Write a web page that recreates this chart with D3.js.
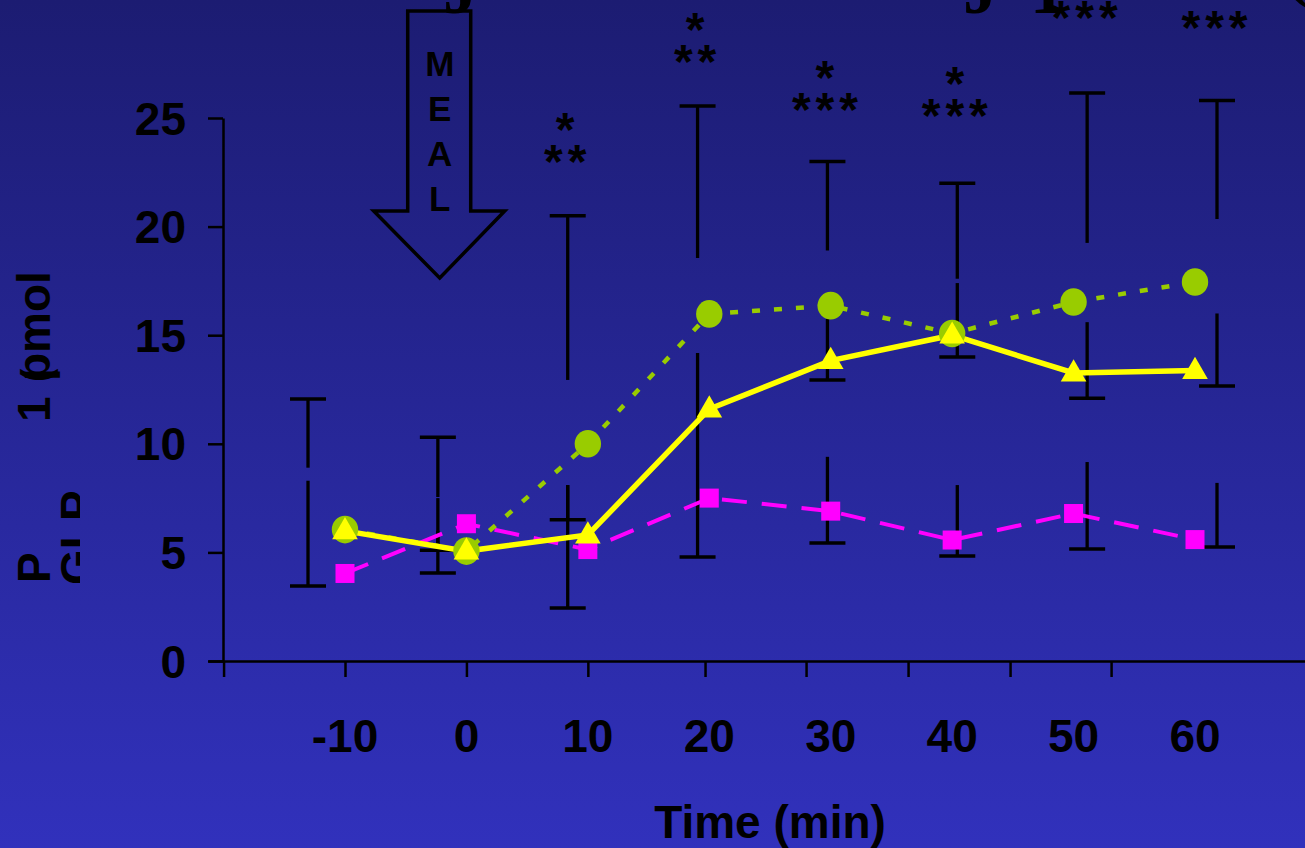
<!DOCTYPE html>
<html>
<head>
<meta charset="utf-8">
<script src="https://cdn.jsdelivr.net/npm/d3@7"></script>
<style>
  body { margin: 0; overflow: hidden; }
  svg text { font-family: "Liberation Sans", Arial, sans-serif; font-weight: bold; fill: #000; }
</style>
</head>
<body>
<svg id="chart" width="1305" height="848"></svg>
<script>
// time points (min) and group means
const times = [-10, 0, 10, 20, 30, 40, 50, 60];
const green = [6.05, 5.06, 10.0, 15.98, 16.36, 15.08, 16.53, 17.45];
const yellow = [5.99, 5.06, 5.8, 11.6, 13.83, 15.0, 13.26, 13.37];
const magenta = [4.03, 6.32, 5.13, 7.5, 6.9, 5.57, 6.79, 5.59];

// error bars as [from, capAt]
const errTop = [[8.9, 12.06], [7.55, 10.3], [12.94, 20.5], [18.55, 25.55], [18.9, 23.0], [17.6, 22.0], [19.25, 26.15], [20.35, 25.8]];
const errMid = [[8.3, 3.45], [7.5, 4.05], [8.1, 2.44], [14.18, 4.79], [15.75, 12.94], [17.4, 14.0], [15.6, 12.1], [16.0, 12.66]];
const errLow = [null, [6.0, 5.1], [8.1, 6.5], null, [9.4, 5.43], [8.1, 4.83], [9.16, 5.16], [8.2, 5.25]];

// significance marks
const starTop = [null, null, "*", "*", "*", "*", null, null];
const starBottom = [null, null, "**", "**", "***", "***", "***", "***"];
const starLevel = [null, null, 23.43, 28.04, 25.83, 25.55, 30.06, 29.6];

const yTicks = [0, 5, 10, 15, 20, 25];
const axisTicks = [-20, -10, 0, 10, 19.65, 27.97, 36.37, 44.77, 53.09];

let svg = d3.select("#chart");
let W = 1305, H = 848;

let defs = svg.append("defs");
let grad = defs.append("linearGradient").attr("id", "bg").attr("x1", 0).attr("y1", 0).attr("x2", 0).attr("y2", 1);
grad.append("stop").attr("offset", "0%").attr("stop-color", "#1c1c72");
grad.append("stop").attr("offset", "100%").attr("stop-color", "#3131bc");
defs.append("clipPath").attr("id", "labclip").append("rect").attr("x", 0).attr("y", 0).attr("width", 80).attr("height", H);

svg.append("rect").attr("width", W).attr("height", H).attr("fill", "url(#bg)");

let x = d3.scaleLinear().domain([-10, 60]).range([345, 1195]);
let xBar = d3.scaleLinear().domain([-10, 60]).range([308, 1217]);
let y = d3.scaleLinear().domain([0, 25]).range([661, 118]);

// cut-off title remnants at the very top
let title = svg.append("g");
[["J", 443, 13], ["J", 963, 13], ["1", 1030, 13], ["(", 1285, -7]].forEach(d => {
    title.append("text").attr("x", d[1]).attr("y", d[2])
        .style("font-family", "'Liberation Serif', serif").style("font-size", "70px").text(d[0]);
});

// axes
svg.append("g").attr("transform", "translate(223,0)")
    .call(d3.axisLeft(y).tickValues(yTicks).tickSize(15).tickSizeOuter(0).tickFormat(""));
let xa = x.copy().domain([x.invert(208), x.invert(W)]).range([208, W]);
svg.append("g").attr("transform", "translate(0,661)")
    .call(d3.axisBottom(xa).tickValues(axisTicks).tickSize(16).tickSizeOuter(0).tickFormat(""));
svg.selectAll(".domain, .tick line").attr("stroke", "#000").attr("stroke-width", 2.5);

svg.append("g").selectAll("text").data(yTicks).enter().append("text")
    .attr("x", 186).attr("y", d => y(d)).attr("dy", "0.36em")
    .attr("text-anchor", "end").style("font-size", "46px").text(d => d);

svg.append("g").selectAll("text").data(times).enter().append("text")
    .attr("x", d => x(d)).attr("y", 752)
    .attr("text-anchor", "middle").style("font-size", "46px").text(d => d);

svg.append("text").attr("x", 770).attr("y", 838).attr("text-anchor", "middle")
    .style("font-size", "46px").text("Time (min)");

// y label (partly hidden in the original slide)
let yl = svg.append("g").attr("transform", "translate(50,583) rotate(-90)").style("font-size", "46px");
yl.append("text").attr("x", 0).text("P");
yl.append("text").attr("x", 161).text("1");
yl.append("text").attr("x", 201).style("font-size", "40px").text("(");
yl.append("text").attr("x", 202).text("pmol");
svg.append("g").attr("clip-path", "url(#labclip)")
    .append("text").attr("transform", "translate(93,585) rotate(-90)")
    .style("font-size", "46px").text("GLP");

// meal arrow
let mx = x(-2.2);
let ax = [[mx - 32, 11], [mx + 31, 11], [mx + 31, 211], [mx + 65, 211], [mx, 278], [mx - 66, 211], [mx - 32, 211]];
svg.append("path").attr("d", d3.line()(ax) + "Z")
    .attr("fill", "none").attr("stroke", "#000").attr("stroke-width", 3.5).attr("stroke-linejoin", "miter");
["M", "E", "A", "L"].forEach((c, i) => {
    svg.append("text").attr("x", mx).attr("y", 76 + i * 45).attr("text-anchor", "middle")
        .style("font-size", "35px").text(c);
});

// error bars
let bars = svg.append("g").attr("stroke", "#000");
function drawErr(arr) {
    arr.forEach((e, i) => {
        if (!e) return;
        let bx = xBar(times[i]);
        bars.append("line").attr("x1", bx).attr("x2", bx).attr("y1", y(e[0])).attr("y2", y(e[1])).attr("stroke-width", 3.3);
        bars.append("line").attr("x1", bx - 18).attr("x2", bx + 18).attr("y1", y(e[1])).attr("y2", y(e[1])).attr("stroke-width", 3.5);
    });
}
drawErr(errTop);
drawErr(errMid);
drawErr(errLow);

// series
let line = d3.line().x((d, i) => x(times[i])).y(d => y(d));

svg.append("path").datum(magenta).attr("d", line).attr("fill", "none")
    .attr("stroke", "#ff00ff").attr("stroke-width", 4).attr("stroke-dasharray", "25,15");
svg.append("path").datum(green).attr("d", line).attr("fill", "none")
    .attr("stroke", "#99cc00").attr("stroke-width", 4.5).attr("stroke-dasharray", "8,14");
svg.append("path").datum(yellow).attr("d", line).attr("fill", "none")
    .attr("stroke", "#ffff00").attr("stroke-width", 5.5);

svg.append("g").selectAll("rect").data(magenta).enter().append("rect")
    .attr("x", (d, i) => x(times[i]) - 9.5).attr("y", d => y(d) - 9.5)
    .attr("width", 19).attr("height", 19).attr("fill", "#ff00ff");
svg.append("g").selectAll("ellipse").data(green).enter().append("ellipse")
    .attr("cx", (d, i) => x(times[i])).attr("cy", d => y(d))
    .attr("rx", 13.2).attr("ry", 13.8).attr("fill", "#99cc00");
let tri = d3.symbol().type(d3.symbolTriangle).size(285);
svg.append("g").selectAll("path").data(yellow).enter().append("path")
    .attr("d", tri)
    .attr("transform", (d, i) => "translate(" + x(times[i]) + "," + (y(d) + 1) + ")")
    .attr("fill", "#ffff00");

// asterisks
let stars = svg.append("g").attr("text-anchor", "middle").style("font-size", "48px").style("letter-spacing", "5px");
times.forEach((t, i) => {
    if (!starBottom[i]) return;
    let sy = y(starLevel[i]);
    stars.append("text").attr("x", xBar(t)).attr("y", sy + 26).text(starBottom[i]);
    if (starTop[i]) stars.append("text").attr("x", xBar(t)).attr("y", sy - 6).text(starTop[i]);
});
</script>
</body>
</html>
